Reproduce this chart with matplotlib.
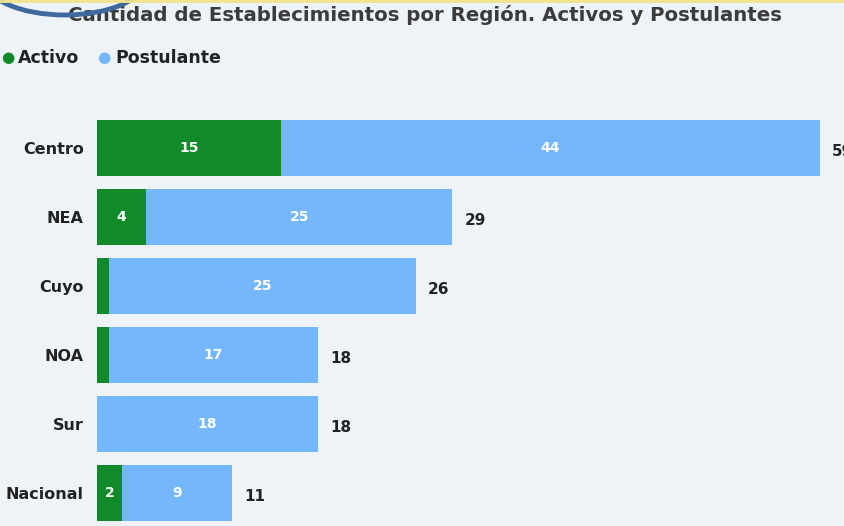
import matplotlib
matplotlib.use("Agg")
import matplotlib.pyplot as plt
from matplotlib.patches import Arc

# Data
regions = ["Centro", "NEA", "Cuyo", "NOA", "Sur", "Nacional"]
activo = [15, 4, 1, 1, 0, 2]
postulante = [44, 25, 25, 17, 18, 9]

GREEN = "#118B2A"
BLUE = "#74B7FC"
BG = "#EEF3F8"

plt.rcParams['font.family'] = ['DejaVu Sans']

W, H = 845, 526
fig = plt.figure(figsize=(W / 100, H / 100), dpi=100, facecolor=BG)

# bar area in pixels
left_px, top_px, bottom_px = 97, 113.5, 527.5
px_per_unit = (820 - 97) / 59.0
xmax = (W - left_px) / px_per_unit
ax = fig.add_axes([left_px / W, 1 - bottom_px / H, 1 - left_px / W, (bottom_px - top_px) / H])
ax.set_facecolor(BG)

y = list(range(len(regions)))
ax.barh(y, activo, height=0.81, color=GREEN)
ax.barh(y, postulante, left=activo, height=0.81, color=BLUE)

for i in y:
    a, p = activo[i], postulante[i]
    if a >= 2:
        ax.text(a / 2, i, str(a), ha='center', va='center', color='white',
                fontsize=10, fontweight='bold')
    if p > 0:
        ax.text(a + p / 2, i, str(p), ha='center', va='center', color='white',
                fontsize=10, fontweight='bold')
    ax.text(a + p + 1.0, i + 0.05, str(a + p), ha='left', va='center', color='#222222',
            fontsize=11, fontweight='bold', clip_on=False)

ax.set_xlim(0, xmax)
ax.set_ylim(len(regions) - 0.5, -0.5)
ax.set_yticks(y)
ax.set_yticklabels(regions, fontsize=11.5, fontweight='bold', color='#222222')
ax.tick_params(axis='y', length=0, pad=9.5)
ax.set_xticks([])
for s in ax.spines.values():
    s.set_visible(False)

# Title (partly hidden under the arc, as in the original)
fig.text(68 / W, 1 - 15 / H, "Cantidad de Establecimientos por Región. Activos y Postulantes",
         ha='left', va='center', fontsize=14.2, fontweight='bold', color='#3b3b3b')

# Legend
fig.text(8 / W, 1 - 58 / H, "●", ha='center', va='center', fontsize=11, color=GREEN)
fig.text(18 / W, 1 - 58 / H, "Activo", ha='left', va='center', fontsize=12.5,
         fontweight='bold', color='#222222')
fig.text(104 / W, 1 - 58 / H, "●", ha='center', va='center', fontsize=11, color=BLUE)
fig.text(115 / W, 1 - 58 / H, "Postulante", ha='left', va='center', fontsize=12.5,
         fontweight='bold', color='#222222')

# Decoration: top yellow line and blue arc
deco = fig.add_axes([0, 0, 1, 1], zorder=5)
deco.set_xlim(0, W)
deco.set_ylim(H, 0)
deco.axis('off')
deco.plot([0, W], [0.8, 0.8], color='#F2E38A', lw=2)
deco.add_patch(Arc((65, -20), 160, 70, theta1=0, theta2=180, color='#3F6A9E', lw=3.5))

fig.savefig("out.png", dpi=100, facecolor=BG)
